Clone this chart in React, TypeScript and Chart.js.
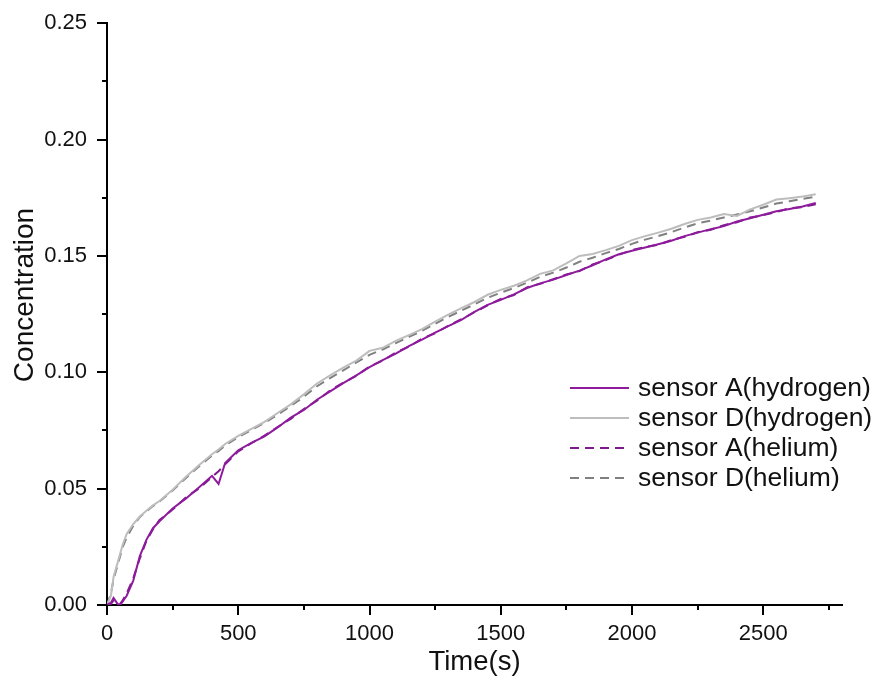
import React, { useEffect, useRef } from "react";
import { Chart, registerables } from "chart.js";

Chart.register(...registerables);

const timeS = [
  0, 15, 25, 40, 50, 60, 75, 100, 125, 150, 175, 200, 250, 300, 350, 400, 425, 450,
  500, 550, 600, 650, 700, 750, 800, 850, 900, 950, 1000, 1050, 1100, 1150, 1200,
  1250, 1300, 1350, 1400, 1450, 1500, 1550, 1600, 1650, 1700, 1750, 1800, 1850,
  1900, 1950, 2000, 2050, 2100, 2150, 2200, 2250, 2300, 2350, 2400, 2450, 2500,
  2550, 2600, 2650, 2700,
];

const sensorAHydrogen = [
  0, 0.001, 0.003, 0.0005, 0, 0.0015, 0.004, 0.0105, 0.021, 0.028, 0.033, 0.036,
  0.0415, 0.0457, 0.0505, 0.0555, 0.052, 0.061, 0.0665, 0.0697, 0.0725, 0.0763,
  0.0805, 0.0838, 0.0882, 0.0918, 0.0953, 0.0987, 0.1022, 0.1052, 0.108, 0.1112,
  0.114, 0.117, 0.1198, 0.1225, 0.126, 0.129, 0.1311, 0.1335, 0.1362, 0.1382,
  0.1398, 0.1418, 0.1437, 0.146, 0.1485, 0.1507, 0.1522, 0.1536, 0.155, 0.1565,
  0.1585, 0.16, 0.1615, 0.1628, 0.1648, 0.1662, 0.1677, 0.1692, 0.1702, 0.1712,
  0.1728,
];

const sensorDHydrogen = [
  0, 0.004, 0.012, 0.018, 0.022, 0.026, 0.0305, 0.0348, 0.038, 0.0405, 0.0428,
  0.0447, 0.0495, 0.055, 0.06, 0.0648, 0.0668, 0.0692, 0.0727, 0.0757, 0.0787,
  0.0825, 0.0862, 0.0905, 0.0952, 0.0987, 0.102, 0.105, 0.1092, 0.1105, 0.1135,
  0.116, 0.1185, 0.1218, 0.1248, 0.1276, 0.1302, 0.1333, 0.1354, 0.1372, 0.1395,
  0.1423, 0.1438, 0.1468, 0.15, 0.1508, 0.1525, 0.1543, 0.1568, 0.1585, 0.16,
  0.1617, 0.1637, 0.1655, 0.1665, 0.168, 0.1672, 0.17, 0.172, 0.1742, 0.1748,
  0.1755, 0.1765,
];

const sensorAHelium = [
  0, 0.0005, 0.002, 0.001, 0.0005, 0.002, 0.005, 0.0115, 0.02, 0.0275, 0.0325,
  0.0365, 0.041, 0.0462, 0.05, 0.055, 0.0575, 0.0605, 0.066, 0.0695, 0.0728,
  0.0765, 0.08, 0.0842, 0.0878, 0.0922, 0.0955, 0.0985, 0.1025, 0.105, 0.1085,
  0.111, 0.1145, 0.1168, 0.12, 0.1228, 0.1258, 0.1288, 0.1315, 0.1332, 0.1365,
  0.138, 0.14, 0.142, 0.1435, 0.1463, 0.1482, 0.1505, 0.1525, 0.1538, 0.1548,
  0.1568, 0.1582, 0.1602, 0.1612, 0.1632, 0.1645, 0.1665, 0.1675, 0.1688, 0.1705,
  0.171, 0.1722,
];

const sensorDHelium = [
  0, 0.005, 0.011, 0.017, 0.021, 0.025, 0.029, 0.034, 0.0378, 0.0402, 0.0425,
  0.0445, 0.0492, 0.0545, 0.0595, 0.0642, 0.0662, 0.0685, 0.0722, 0.0752, 0.0783,
  0.0818, 0.0855, 0.0895, 0.094, 0.0975, 0.1008, 0.1042, 0.1075, 0.1098, 0.1125,
  0.1152, 0.1178, 0.1208, 0.1238, 0.1265, 0.1292, 0.132, 0.1342, 0.1362, 0.1385,
  0.141, 0.1428, 0.145, 0.1475, 0.1492, 0.1512, 0.153, 0.1552, 0.157, 0.1585,
  0.1602, 0.1622, 0.164, 0.1652, 0.1665, 0.1678, 0.1692, 0.1708, 0.1725, 0.1735,
  0.1745, 0.1755,
];

const seriesLabels = [
  "sensor A(hydrogen)",
  "sensor D(hydrogen)",
  "sensor A(helium)",
  "sensor D(helium)",
];

const xTicks = [0, 500, 1000, 1500, 2000, 2500];
const xMinorTicks = [250, 750, 1250, 1750, 2250, 2750];
const yTicks = [0, 0.05, 0.1, 0.15, 0.2, 0.25];
const yMinorTicks = [0.025, 0.075, 0.125, 0.175, 0.225];

const xTitle = "Time(s)";
const yTitle = "Concentration";

const FONT = "'Liberation Sans', Arial, Helvetica, sans-serif";
const PURPLE = "#8E1A9C";
const PURPLE_DASH = "#7E1A8C";
const GRAY = "#BDBDBD";
const GRAY_DASH = "#808080";

const toPoints = (vals: number[]) => vals.map((v, i) => ({ x: timeS[i], y: v }));

export default function App() {
  const ref = useRef<HTMLCanvasElement | null>(null);

  useEffect(() => {
    if (!ref.current) return;

    const extras = {
      id: "extras",
      afterDraw(chart: any) {
        const ctx = chart.ctx;
        const xs = chart.scales.x;
        const ys = chart.scales.y;
        const area = chart.chartArea;
        ctx.save();
        ctx.strokeStyle = "#000";
        ctx.lineWidth = 2;
        xMinorTicks.forEach((v) => {
          const px = Math.round(xs.getPixelForValue(v));
          ctx.beginPath();
          ctx.moveTo(px, area.bottom);
          ctx.lineTo(px, area.bottom + 5);
          ctx.stroke();
        });
        yMinorTicks.forEach((v) => {
          const py = Math.round(ys.getPixelForValue(v));
          ctx.beginPath();
          ctx.moveTo(area.left, py);
          ctx.lineTo(area.left - 5, py);
          ctx.stroke();
        });
        // y title
        ctx.save();
        ctx.translate(25, 295);
        ctx.rotate(-Math.PI / 2);
        ctx.fillStyle = "#111";
        ctx.font = `28px ${FONT}`;
        ctx.textAlign = "center";
        ctx.textBaseline = "middle";
        ctx.fillText(yTitle, 0, 0);
        ctx.restore();
        // legend
        const rows = [388, 418, 448, 478];
        ctx.font = `26.5px ${FONT}`;
        ctx.textAlign = "left";
        ctx.textBaseline = "middle";
        chart.data.datasets.forEach((ds: any, i: number) => {
          const y = rows[i];
          ctx.save();
          ctx.strokeStyle = ds.borderColor;
          ctx.lineWidth = ds.borderWidth;
          ctx.setLineDash(ds.borderDash || []);
          ctx.beginPath();
          ctx.moveTo(570, y);
          ctx.lineTo(629, y);
          ctx.stroke();
          ctx.restore();
          ctx.fillStyle = "#111";
          ctx.fillText(ds.label, 638, y + 1);
        });
        ctx.restore();
      },
    };

    const chart = new Chart(ref.current, {
      type: "line",
      data: {
        datasets: [
          {
            label: seriesLabels[0],
            data: toPoints(sensorAHydrogen),
            borderColor: PURPLE,
            borderWidth: 2,
            pointRadius: 0,
            tension: 0,
          },
          {
            label: seriesLabels[1],
            data: toPoints(sensorDHydrogen),
            borderColor: GRAY,
            borderWidth: 2,
            pointRadius: 0,
            tension: 0,
          },
          {
            label: seriesLabels[2],
            data: toPoints(sensorAHelium),
            borderColor: PURPLE_DASH,
            borderWidth: 2,
            borderDash: [9, 6],
            pointRadius: 0,
            tension: 0,
          },
          {
            label: seriesLabels[3],
            data: toPoints(sensorDHelium),
            borderColor: GRAY_DASH,
            borderWidth: 2,
            borderDash: [9, 6],
            pointRadius: 0,
            tension: 0,
          },
        ],
      },
      options: {
        responsive: false,
        animation: false,
        devicePixelRatio: 1,
        layout: { padding: { left: 0, top: 21, right: 36, bottom: 0 } },
        plugins: {
          legend: { display: false },
          tooltip: { enabled: false },
        },
        scales: {
          x: {
            type: "linear",
            min: 0,
            max: 2800,
            afterBuildTicks: (s: any) => {
              s.ticks = xTicks.map((v) => ({ value: v }));
            },
            afterFit: (s: any) => {
              s.height = 79;
            },
            grid: {
              display: true,
              drawOnChartArea: false,
              drawTicks: true,
              tickLength: 10,
              color: "#000",
              lineWidth: 2,
            },
            border: { display: true, color: "#000", width: 2 },
            ticks: {
              padding: 6,
              color: "#111",
              font: { family: FONT, size: 22 },
              maxRotation: 0,
              callback: (v: any) => String(v),
            },
            title: {
              display: true,
              text: xTitle,
              color: "#111",
              font: { family: FONT, size: 27.5 },
              padding: { top: 0, bottom: 5 },
            },
          },
          y: {
            type: "linear",
            min: 0,
            max: 0.25,
            afterBuildTicks: (s: any) => {
              s.ticks = yTicks.map((v) => ({ value: v }));
            },
            afterFit: (s: any) => {
              s.width = 107;
            },
            grid: {
              display: true,
              drawOnChartArea: false,
              drawTicks: true,
              tickLength: 10,
              color: "#000",
              lineWidth: 2,
            },
            border: { display: true, color: "#000", width: 2 },
            ticks: {
              padding: 10,
              color: "#111",
              font: { family: FONT, size: 22 },
              callback: (v: any) => Number(v).toFixed(2),
            },
          },
        },
      },
      plugins: [extras],
    });

    return () => chart.destroy();
  }, []);

  return (
    <div style={{ position: "fixed", left: 0, top: 0, width: 878, height: 684, background: "#fff" }}>
      <canvas ref={ref} width={878} height={684} style={{ display: "block" }} />
    </div>
  );
}
